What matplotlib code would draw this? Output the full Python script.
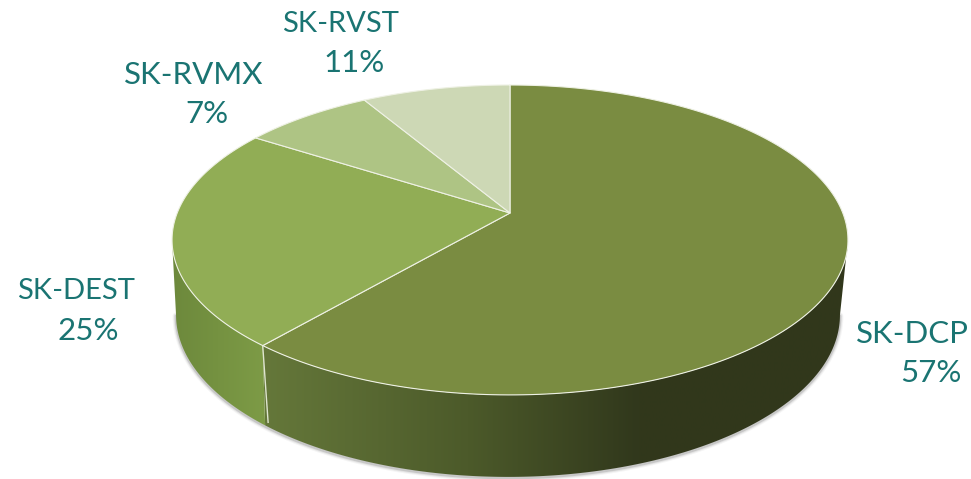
import numpy as np
import matplotlib
matplotlib.use("Agg")
import matplotlib.pyplot as plt
from matplotlib.colors import LinearSegmentedColormap
from matplotlib.patches import Polygon

names = ["SK-DCP", "SK-DEST", "SK-RVMX", "SK-RVST"]
pct_labels = ["57%", "25%", "7%", "11%"]
# slice sizes as drawn, these differ from the printed percentages
drawn_share = [61.2, 23.1, 7.4, 8.4]
top_colors = ["#7a8c41", "#91ad55", "#aec484", "#cdd8b5"]
text_color = "#1a7472"

# label centres in pixels: name x, name y, pct x, pct y
label_pos = [
    (912, 334, 931, 373),
    (76, 291, 88, 331),
    (194, 75, 207, 114),
    (340, 24, 354, 63),
]
name_sizes = [22.5, 21, 22.5, 21]

# perspective of the top face
cx, cy_apex = 510, 213
k = 0.174
A = -113.2
C = 332.8


def project(theta):
    # theta clockwise from 12 o'clock, on the unit circle
    u = np.sin(theta)
    v = np.cos(theta)
    return cx + C * u / (1 + k * v), (A * v + cy_apex) / (1 + k * v)


def to_bottom(x, y):
    # same spot on the lower rim
    return 508 + (x - 510) * 332 / 338, 315 + (y - 240) * 162 / 155


def side_strip(t0, t1):
    t = np.linspace(t0, t1, 200)
    x, y = project(t)
    xb, yb = to_bottom(x, y)
    return np.r_[x, xb[::-1]], np.r_[y, yb[::-1]]


fig = plt.figure(figsize=(9.71, 4.79), dpi=100)
ax = fig.add_axes([0, 0, 1, 1])
ax.axis("off")

edges = np.r_[0, np.cumsum(drawn_share)] / np.sum(drawn_share) * 2 * np.pi

# where the rim turns away at the far right and left
t_right = np.pi / 2 + np.arcsin(k)
t_left = 1.5 * np.pi - np.arcsin(k)

# soft shadow under the lower rim
t = np.linspace(t_right, t_left, 300)
xs, ys = to_bottom(*project(t))
for lw, a in [(5, 0.06), (3.5, 0.1), (2, 0.2)]:
    ax.plot(xs, ys + 1, color="#555555", lw=lw, alpha=a, solid_capstyle="round", zorder=1)

# side wall, one gradient for each visible slice
dcp_cmap = LinearSegmentedColormap.from_list("dcp", [(0, "#65783a"), (0.35, "#4c5a2a"), (0.64, "#31381c"), (1, "#31371b")])
dest_cmap = LinearSegmentedColormap.from_list("dest", ["#6d893c", "#7d9b46"])
grad = np.linspace(0, 1, 256).reshape(1, -1)

walls = [(t_right, edges[1], dcp_cmap, (262, 850)), (edges[1], t_left, dest_cmap, (172, 265))]
for t0, t1, cmap, ext in walls:
    wx, wy = side_strip(t0, t1)
    im = ax.imshow(grad, cmap=cmap, extent=(ext[0], ext[1], 479, 0), aspect="auto", zorder=2, interpolation="bilinear")
    wall = Polygon(np.c_[wx, wy], closed=True, fc="none", ec="none")
    ax.add_patch(wall)
    im.set_clip_path(wall)
ax.set_xlim(0, 971)
ax.set_ylim(479, 0)

# pale line between the two wall sections
bx, by = project(edges[1])
bx2, by2 = to_bottom(bx, by)
ax.plot([bx, bx2 + 3], [by, by2 - 3], color="#dfe6cf", lw=1, zorder=3)

# top face
for i in range(len(drawn_share)):
    t = np.linspace(edges[i], edges[i + 1], 200)
    x, y = project(t)
    pts = np.c_[np.r_[cx, x], np.r_[cy_apex, y]]
    ax.add_patch(Polygon(pts, closed=True, fc=top_colors[i], ec="#eef1e4", lw=0.8, zorder=4, joinstyle="round"))

for name, pct, pos, size in zip(names, pct_labels, label_pos, name_sizes):
    ax.text(pos[0], pos[1], name, color=text_color, family="Lato", fontsize=size, ha="center", va="center", zorder=5)
    ax.text(pos[2], pos[3], pct, color=text_color, family="Lato", fontsize=22.5, ha="center", va="center", zorder=5)

fig.savefig("out.png", dpi=100, facecolor="white")
